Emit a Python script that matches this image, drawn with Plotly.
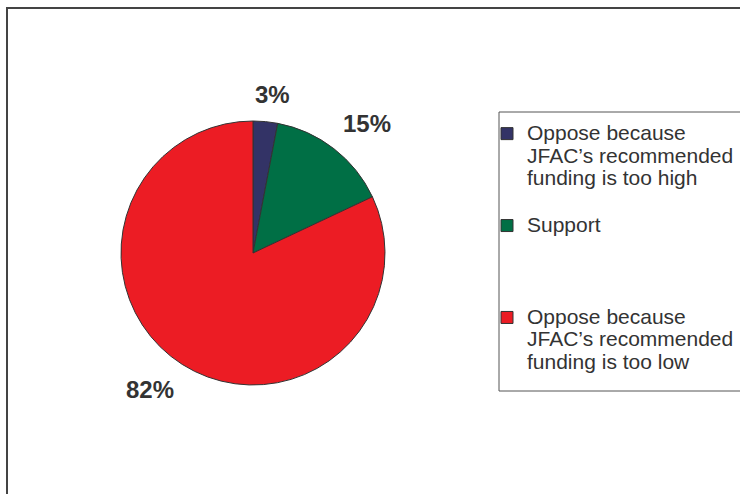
import math
import plotly.graph_objects as go

legend_lines = [
    ["Oppose because", "JFAC\u2019s recommended", "funding is too high"],
    ["Support"],
    ["Oppose because", "JFAC\u2019s recommended", "funding is too low"],
]
values = [3, 15, 82]
colors = ["#333366", "#006F45", "#EC1C24"]

W, H = 740, 494
cx, cy, r = 253, 253, 132  # pie centre / radius in pixels


def legend_label(lines, n=4):
    parts = ['<span style="font-size:21px">%s</span>' % t for t in lines]
    parts += ["\u00a0"] * (n - len(lines))
    return "<br>".join(parts)


labels = [legend_label(l) for l in legend_lines]

fig = go.Figure(go.Pie(
    labels=labels,
    values=values,
    sort=False,
    direction="clockwise",
    rotation=0,
    textinfo="none",
    hoverinfo="percent",
    marker=dict(colors=colors, line=dict(color="#333333", width=1)),
    domain=dict(x=[(cx - r) / W, (cx + r) / W],
                y=[1 - (cy + r) / H, 1 - (cy - r) / H]),
))

# percentage labels outside the slices, placed from the slice mid angles
total = sum(values)
cum = 0
for v in values:
    mid = (cum + v / 2) / total * 2 * math.pi
    cum += v
    s, c = math.sin(mid), math.cos(mid)
    px = cx + 1.09 * r * s
    py = cy - 1.09 * r * c
    xa = "left" if s > 0.3 else ("right" if s < -0.3 else "center")
    ya = "bottom" if c > 0 else "top"
    fig.add_annotation(
        x=px / W, y=1 - py / H, xref="paper", yref="paper",
        text="<b>%d%%</b>" % round(v / total * 100),
        showarrow=False, xanchor=xa, yanchor=ya,
        xshift=6 if xa == "center" else 0,
        font=dict(size=24, color="#333333", family="Liberation Sans, Arial"),
    )

# chart frame
fig.add_shape(type="rect", xref="paper", yref="paper",
              x0=7 / W, x1=1.05, y0=-0.05, y1=1 - 8 / H,
              line=dict(color="#444444", width=2))
# legend frame
fig.add_shape(type="rect", xref="paper", yref="paper",
              x0=499 / W, x1=1.05,
              y0=1 - 391 / H, y1=1 - 112 / H,
              line=dict(color="#555555", width=1))

fig.update_layout(
    width=W, height=H,
    margin=dict(l=0, r=0, t=0, b=0),
    paper_bgcolor="white",
    plot_bgcolor="white",
    font=dict(family="Liberation Sans, Arial", color="#333333"),
    showlegend=True,
    legend=dict(
        x=487 / W, y=1 - 116 / H, xanchor="left", yanchor="top",
        borderwidth=0, bgcolor="rgba(0,0,0,0)",
        font=dict(size=17.1, color="#333333"),
        valign="top",
        traceorder="normal",
    ),
)

fig.write_html("out.html", config={"displayModeBar": False},
               post_script="document.body.style.margin='0';")
